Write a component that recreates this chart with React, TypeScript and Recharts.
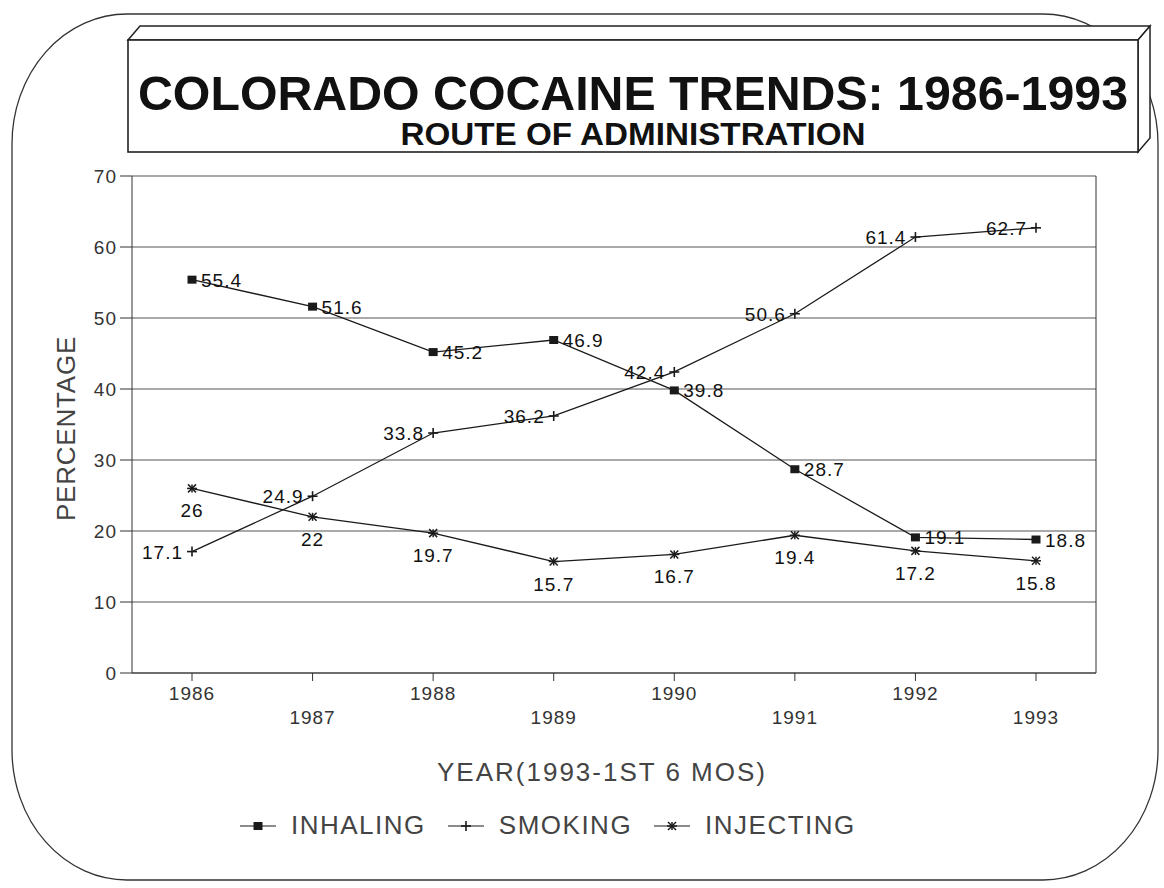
import React from 'react';
import { LineChart, Line, XAxis, YAxis, CartesianGrid, Legend, LabelList } from 'recharts';

const years = ['1986', '1987', '1988', '1989', '1990', '1991', '1992', '1993'];
const inhaling = [55.4, 51.6, 45.2, 46.9, 39.8, 28.7, 19.1, 18.8];
const smoking = [17.1, 24.9, 33.8, 36.2, 42.4, 50.6, 61.4, 62.7];
const injecting = [26, 22, 19.7, 15.7, 16.7, 19.4, 17.2, 15.8];
const yTicks = [0, 10, 20, 30, 40, 50, 60, 70];

const data = years.map((year, i) => ({
  year,
  inhaling: inhaling[i],
  smoking: smoking[i],
  injecting: injecting[i],
}));

const INK = '#1a1a1a';
const FONT = '"Liberation Sans", Arial, Helvetica, sans-serif';

// markers
const SquareMark = ({ cx, cy }: { cx: number; cy: number }) => (
  <rect x={cx - 4.5} y={cy - 4} width={9} height={8} fill={INK} />
);
const PlusMark = ({ cx, cy }: { cx: number; cy: number }) => (
  <g stroke={INK} strokeWidth={1.6}>
    <line x1={cx - 5} y1={cy} x2={cx + 5} y2={cy} />
    <line x1={cx} y1={cy - 5} x2={cx} y2={cy + 5} />
  </g>
);
const StarMark = ({ cx, cy }: { cx: number; cy: number }) => (
  <g stroke={INK} strokeWidth={1.5}>
    <line x1={cx - 4} y1={cy - 4} x2={cx + 4} y2={cy + 4} />
    <line x1={cx - 4} y1={cy + 4} x2={cx + 4} y2={cy - 4} />
    <line x1={cx - 5} y1={cy} x2={cx + 5} y2={cy} />
    <line x1={cx} y1={cy - 4} x2={cx} y2={cy + 4} />
  </g>
);

const dotFn = (Mark: any) => (p: any) => <Mark key={`d-${p.index}`} cx={p.cx} cy={p.cy} />;

const labelStyle = { fontSize: 19, fill: '#111', fontFamily: FONT, letterSpacing: 1 };

const rightLabel = (p: any) => (
  <text key={`r-${p.index}`} x={p.x + 9} y={p.y + 7} textAnchor="start" {...labelStyle}>{p.value}</text>
);
const leftLabel = (p: any) => (
  <text key={`l-${p.index}`} x={p.x - 9} y={p.y + 7} textAnchor="end" {...labelStyle}>{p.value}</text>
);
const belowLabel = (p: any) => (
  <text key={`b-${p.index}`} x={p.x} y={p.y + 29} textAnchor="middle" {...labelStyle}>{p.value}</text>
);

const YearTick = (p: any) => {
  const i = years.indexOf(p.payload.value);
  return (
    <text x={p.x} y={p.y + (i % 2 ? 41 : 17)} textAnchor="middle" fontSize={19} letterSpacing={1} fill="#333" fontFamily={FONT}>
      {p.payload.value}
    </text>
  );
};

const legendItems = [
  { name: 'INHALING', Mark: SquareMark },
  { name: 'SMOKING', Mark: PlusMark },
  { name: 'INJECTING', Mark: StarMark },
];

const renderLegend = () => (
  <div style={{ display: 'flex', alignItems: 'center', fontFamily: FONT, fontSize: 26, letterSpacing: 1.5, color: '#444' }}>
    {legendItems.map(({ name, Mark }) => (
      <div key={name} style={{ display: 'flex', alignItems: 'center', marginRight: 20 }}>
        <svg width={40} height={16} style={{ marginRight: 13 }}>
          <line x1={2} y1={8} x2={38} y2={8} stroke={INK} strokeWidth={1.2} />
          <Mark cx={20} cy={8} />
        </svg>
        <span>{name}</span>
      </div>
    ))}
  </div>
);

export default function App() {
  return (
    <div style={{ position: 'absolute', left: 0, top: 0, width: 1164, height: 888, background: '#fff', fontFamily: FONT }}>
      <svg width={1164} height={888} style={{ position: 'absolute', left: 0, top: 0 }}>
        <rect x={12} y={14} width={1146} height={866} rx={115} ry={130} fill="none" stroke="#333" strokeWidth={1.3} />
      </svg>
      <LineChart
        width={1164}
        height={888}
        data={data}
        margin={{ top: 176, right: 67, bottom: 105, left: 32 }}
      >
        <CartesianGrid vertical={false} stroke="#555" strokeWidth={1.2} />
        <XAxis
          dataKey="year"
          height={110}
          padding={{ left: 60, right: 60 }}
          tickSize={8}
          tickMargin={2}
          tick={YearTick}
          interval={0}
          stroke="#333"
          label={{ value: 'YEAR(1993-1ST 6 MOS)', position: 'insideBottom', offset: 2, dx: -12, fontSize: 26, letterSpacing: 2, fill: '#444', fontFamily: FONT }}
        />
        <YAxis
          width={100}
          domain={[0, 70]}
          ticks={yTicks}
          tickSize={12}
          tickMargin={3}
          stroke="#333"
          tick={{ fontSize: 19, fill: '#333', fontFamily: FONT, letterSpacing: 1 }}
          label={{ value: 'PERCENTAGE', angle: -90, position: 'insideLeft', offset: 34, dy: 4, fontSize: 26, letterSpacing: 0.8, fill: '#444', fontFamily: FONT, style: { textAnchor: 'middle' } }}
        />
        <YAxis yAxisId="right" orientation="right" width={1} domain={[0, 70]} tick={false} tickLine={false} stroke="#333" />
        <Legend verticalAlign="middle" layout="horizontal" content={renderLegend} wrapperStyle={{ left: 238, top: 810, width: 850 }} />
        <Line type="linear" dataKey="inhaling" name="INHALING" stroke={INK} strokeWidth={1.3} dot={dotFn(SquareMark)} activeDot={false} isAnimationActive={false}>
          <LabelList dataKey="inhaling" content={rightLabel} />
        </Line>
        <Line type="linear" dataKey="smoking" name="SMOKING" stroke={INK} strokeWidth={1.3} dot={dotFn(PlusMark)} activeDot={false} isAnimationActive={false}>
          <LabelList dataKey="smoking" content={leftLabel} />
        </Line>
        <Line type="linear" dataKey="injecting" name="INJECTING" stroke={INK} strokeWidth={1.3} dot={dotFn(StarMark)} activeDot={false} isAnimationActive={false}>
          <LabelList dataKey="injecting" content={belowLabel} />
        </Line>
      </LineChart>
      <svg width={1164} height={170} style={{ position: 'absolute', left: 0, top: 0 }}>
        <polygon points="128,40 140,26 1150,26 1138,40" fill="#fff" stroke="#222" strokeWidth={1.5} />
        <polygon points="1138,40 1150,26 1150,138 1138,152" fill="#fff" stroke="#222" strokeWidth={1.5} />
        <rect x={128} y={40} width={1010} height={112} fill="#fff" stroke="#222" strokeWidth={1.6} />
        <text x={633} y={110} textAnchor="middle" fontSize={48} fontWeight="bold" fill="#111" fontFamily={FONT} textLength={990} lengthAdjust="spacingAndGlyphs">
          COLORADO COCAINE TRENDS: 1986-1993
        </text>
        <text x={633} y={145} textAnchor="middle" fontSize={31} fontWeight="bold" fill="#111" fontFamily={FONT} textLength={465} lengthAdjust="spacingAndGlyphs">
          ROUTE OF ADMINISTRATION
        </text>
      </svg>
    </div>
  );
}
